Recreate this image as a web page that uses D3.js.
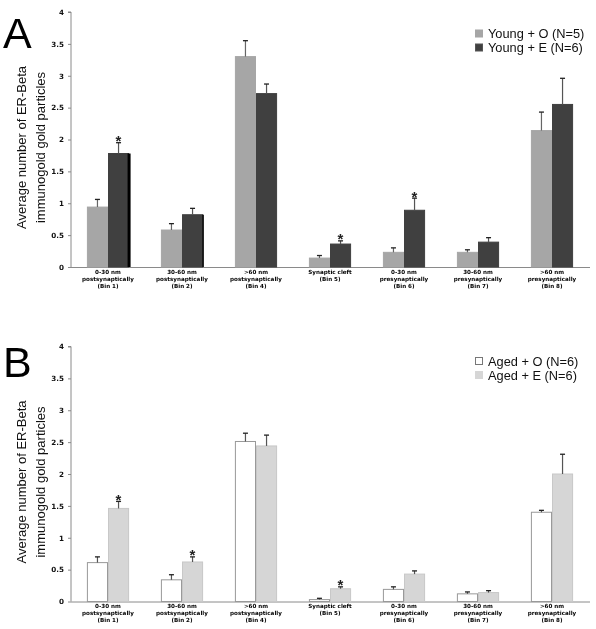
<!DOCTYPE html>
<html>
<head>
<meta charset="utf-8">
<script src="https://cdn.jsdelivr.net/npm/d3@7"></script>
<style>
  html, body { margin: 0; padding: 0; background: #fff; }
  svg { display: block; will-change: transform; -webkit-font-smoothing: antialiased; }
</style>
</head>
<body>
<svg id="chart" width="596" height="629"></svg>
<script>
// ---------- DATA ----------
const bins = ["Bin 1", "Bin 2", "Bin 4", "Bin 5", "Bin 6", "Bin 7", "Bin 8"];
const binLabels = [
  ["0-30 nm", "postsynaptically", "(Bin 1)"],
  ["30-60 nm", "postsynaptically", "(Bin 2)"],
  [">60 nm", "postsynaptically", "(Bin 4)"],
  ["Synaptic cleft", "(Bin 5)"],
  ["0-30 nm", "presynaptically", "(Bin 6)"],
  ["30-60 nm", "presynaptically", "(Bin 7)"],
  [">60 nm", "presynaptically", "(Bin 8)"]
];
const yTicks = [0, 0.5, 1, 1.5, 2, 2.5, 3, 3.5, 4];

const youngSeries = ["Young + O (N=5)", "Young + E (N=6)"];
const youngO = [0.94, 0.58, 3.30, 0.14, 0.23, 0.23, 2.14];
const youngOErr = [0.12, 0.10, 0.25, 0.04, 0.07, 0.04, 0.29];
const youngE = [1.78, 0.82, 2.72, 0.36, 0.89, 0.39, 2.55];
const youngEErr = [0.17, 0.10, 0.15, 0.05, 0.19, 0.07, 0.41];
const youngStars = ["Bin 1", "Bin 5", "Bin 6"];

const agedSeries = ["Aged + O (N=6)", "Aged + E (N=6)"];
const agedO = [0.61, 0.34, 2.51, 0.03, 0.19, 0.12, 1.40];
const agedOErr = [0.09, 0.08, 0.13, 0.02, 0.04, 0.03, 0.03];
const agedE = [1.46, 0.62, 2.44, 0.20, 0.43, 0.14, 2.00];
const agedEErr = [0.11, 0.08, 0.17, 0.03, 0.05, 0.03, 0.31];
const agedStars = ["Bin 1", "Bin 2", "Bin 5"];

// ---------- DRAW ----------
const svg = d3.select("#chart");
const xLeft = 71, xRight = 590;

function drawPanel(cfg) {
  const g = svg.append("g");
  const y = d3.scaleLinear().domain([0, 4]).range([cfg.y0, cfg.y0 - 255]);
  const x0 = d3.scaleBand().domain(bins).range([xLeft, xLeft + 7 * 74])
    .paddingInner(0.43).paddingOuter(0.215);
  const x1 = d3.scaleBand().domain(cfg.series).range([0, x0.bandwidth()]);

  const yAxis = d3.axisLeft(y).tickValues(yTicks).tickSize(3).tickPadding(4)
    .tickFormat(d3.format("~g"));
  const ya = g.append("g").attr("transform", `translate(${xLeft},0)`).call(yAxis);
  ya.select(".domain").attr("stroke", "#8a8a8a").attr("d", `M-3,${y(4)}H0V${y(0)}`);
  ya.selectAll(".tick line").attr("stroke", "#8a8a8a");
  ya.selectAll(".tick text").attr("font-family", "DejaVu Sans").attr("font-weight", "bold")
    .attr("font-size", 7.2).attr("fill", "#111");

  g.append("line").attr("x1", xLeft).attr("x2", xRight)
    .attr("y1", y(0) + 0.5).attr("y2", y(0) + 0.5)
    .attr("stroke", "#8a8a8a").attr("stroke-width", 1);

  const rows = bins.map((b, i) => ({bin: b, i}));
  const values = [cfg.a, cfg.b], errs = [cfg.aErr, cfg.bErr];
  const fills = cfg.fills, strokes = cfg.strokes;

  cfg.series.forEach((s, si) => {
    const sg = g.append("g");
    sg.selectAll("rect").data(rows).join("rect")
      .attr("x", d => x0(d.bin) + x1(s) + 0.5)
      .attr("y", d => y(values[si][d.i]))
      .attr("width", x1.bandwidth() - 1)
      .attr("height", d => y(0) - y(values[si][d.i]))
      .attr("fill", fills[si])
      .attr("stroke", strokes[si]).attr("stroke-width", 1);
    const eg = g.append("g");
    rows.forEach(d => {
      const cx = x0(d.bin) + x1(s) + x1.bandwidth() / 2;
      const yt = y(values[si][d.i] + errs[si][d.i]);
      const yb = y(values[si][d.i]);
      eg.append("line").attr("x1", cx).attr("x2", cx).attr("y1", yt).attr("y2", yb)
        .attr("stroke", cfg.errColor[si]).attr("stroke-width", 1.2);
      eg.append("line").attr("x1", cx - 2.5).attr("x2", cx + 2.5).attr("y1", yt).attr("y2", yt)
        .attr("stroke", "#222").attr("stroke-width", 1.3);
    });
  });

  (cfg.edges || []).forEach(e => {
    const xr = x0(e.bin) + x1(cfg.series[1]) + x1.bandwidth();
    const v = cfg.b[bins.indexOf(e.bin)];
    g.append("rect").attr("x", xr - e.w / 2).attr("y", y(v))
      .attr("width", e.w).attr("height", y(0) - y(v)).attr("fill", "#000");
  });

  cfg.stars.forEach(b => {
    const i = bins.indexOf(b);
    const cx = x0(b) + x1(cfg.series[1]) + x1.bandwidth() / 2;
    g.append("text").attr("x", cx).attr("y", y(cfg.b[i] + cfg.bErr[i]) + 3.5)
      .attr("text-anchor", "middle").attr("font-family", "Liberation Sans")
      .attr("font-weight", "bold").attr("font-size", 15).attr("fill", "#222").text("*");
  });

  rows.forEach(d => {
    const t = g.append("text").attr("text-anchor", "middle")
      .attr("font-family", "DejaVu Sans").attr("font-weight", "bold")
      .attr("font-size", 5.6).attr("fill", "#000");
    binLabels[d.i].forEach((ln, k) => {
      t.append("tspan").attr("x", x0(d.bin) + x0.bandwidth() / 2)
        .attr("y", y(0) + 6.5 + k * 7).text(ln);
    });
  });

  const tcy = (y(0) + y(4)) / 2 + 8;
  ["Average number of ER-Beta", "immunogold gold particles"].forEach((ln, k) => {
    g.append("text").attr("transform", `translate(${26 + k * 19},${tcy}) rotate(-90)`)
      .attr("text-anchor", "middle").attr("font-family", "Liberation Sans")
      .attr("font-size", 13).attr("fill", "#111").text(ln);
  });

  g.append("text").attr("x", cfg.letterX).attr("y", cfg.letterY)
    .attr("font-family", "Liberation Sans").attr("font-size", 43)
    .attr("fill", "#000").text(cfg.letter);

  cfg.series.forEach((s, si) => {
    const ly = cfg.legendY + si * 14;
    g.append("rect").attr("x", 475.5).attr("y", ly - 3.5).attr("width", 7).attr("height", 7)
      .attr("fill", fills[si]).attr("stroke", cfg.legendStroke[si]).attr("stroke-width", 1);
    g.append("text").attr("x", 488).attr("y", ly + 4.6)
      .attr("font-family", "Liberation Sans").attr("font-size", 12.8)
      .attr("fill", "#111").text(s);
  });
}

drawPanel({
  y0: 267, series: youngSeries, a: youngO, aErr: youngOErr, b: youngE, bErr: youngEErr,
  fills: ["#a6a6a6", "#404040"], strokes: ["#a6a6a6", "#404040"],
  errColor: ["#666", "#555"], stars: youngStars,
  edges: [{bin: "Bin 1", w: 3}, {bin: "Bin 2", w: 1.5}],
  letter: "A", letterX: 3, letterY: 48,
  legendY: 33.5, legendStroke: ["#a6a6a6", "#555"]
});

drawPanel({
  y0: 601.5, series: agedSeries, a: agedO, aErr: agedOErr, b: agedE, bErr: agedEErr,
  fills: ["#ffffff", "#d6d6d6"], strokes: ["#999", "#c8c8c8"],
  errColor: ["#555", "#555"], stars: agedStars,
  letter: "B", letterX: 3, letterY: 377,
  legendY: 361, legendStroke: ["#777", "#d6d6d6"]
});
</script>
</body>
</html>
